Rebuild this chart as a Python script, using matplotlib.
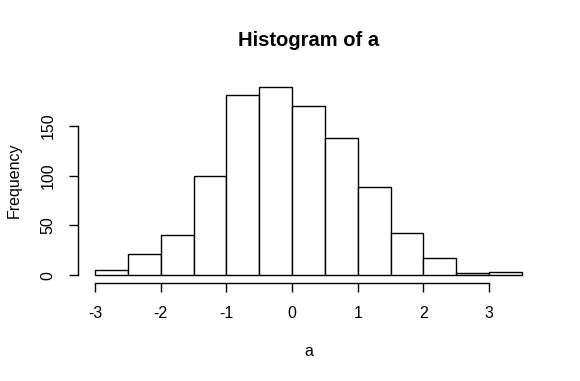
import numpy as np
import matplotlib
matplotlib.use("Agg")
import matplotlib.pyplot as plt

plt.rcParams['font.family'] = ['Liberation Sans', 'DejaVu Sans']

# histogram of a: bin edges and counts
edges = [-3.0, -2.5, -2.0, -1.5, -1.0, -0.5, 0.0, 0.5, 1.0, 1.5, 2.0, 2.5, 3.0, 3.5]
counts = [5, 21, 40, 100, 181, 189, 170, 138, 88, 42, 17, 2, 3]
xticks = [-3, -2, -1, 0, 1, 2, 3]
yticks = [0, 50, 100, 150]

W, H = 580, 381
fig = plt.figure(figsize=(W / 100, H / 100), dpi=100)
# plot region in pixels: x 78..539, y 79..283
ax = fig.add_axes([78 / W, 1 - 283 / H, (539 - 78) / W, (283 - 79) / H])

left = np.array(edges[:-1])
widths = np.diff(edges)
ax.bar(left, counts, width=widths, align='edge', facecolor='white',
       edgecolor='black', linewidth=1.0)

span_x = edges[-1] - edges[0]
ax.set_xlim(edges[0] - 0.04 * span_x, edges[-1] + 0.04 * span_x)
ymax = max(counts)
ax.set_ylim(-0.04 * ymax, ymax * 1.04)

for s in ['top', 'right']:
    ax.spines[s].set_visible(False)
ax.spines['left'].set_bounds(yticks[0], yticks[-1])
ax.spines['bottom'].set_bounds(xticks[0], xticks[-1])
ax.spines['left'].set_linewidth(1.0)
ax.spines['bottom'].set_linewidth(1.0)

ax.set_xticks(xticks)
ax.set_xticklabels([str(t) for t in xticks])
ax.set_yticks(yticks)
ax.set_yticklabels([str(t) for t in yticks], rotation=90, va='center')
ax.tick_params(axis='both', direction='out', length=6.5, width=1.0,
               labelsize=11.5, colors='black')
ax.tick_params(axis='x', pad=10)
ax.tick_params(axis='y', pad=9.5)

fig.text((78 + 539) / 2 / W, 1 - 41 / H, 'Histogram of a', ha='center',
         va='center', fontsize=14.5, fontweight='bold')
fig.text((78 + 539) / 2 / W, 1 - 351 / H, 'a', ha='center', va='center',
         fontsize=11.5)
fig.text(14 / W, 1 - 180 / H, 'Frequency', ha='center', va='center',
         rotation=90, fontsize=11.5)

fig.savefig('out.png', dpi=100, facecolor='white')
